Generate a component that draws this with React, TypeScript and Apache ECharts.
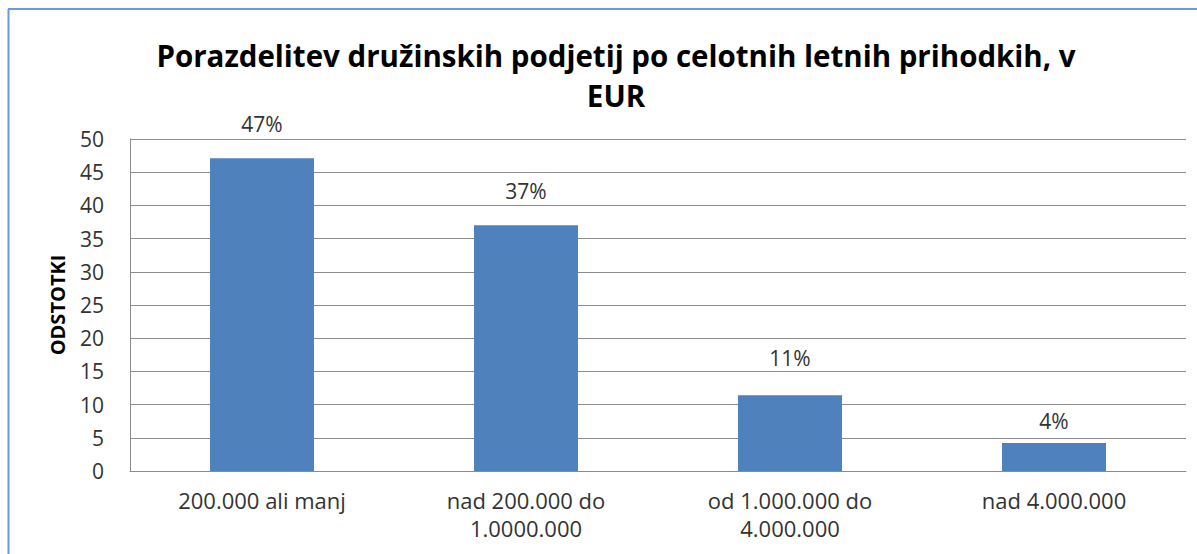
import React, { useEffect, useRef } from "react";
import * as echarts from "echarts";

const categories = [
  "200.000 ali manj",
  "nad 200.000 do\n1.0000.000",
  "od 1.000.000 do\n4.000.000",
  "nad 4.000.000",
];
const values = [47.1, 37.0, 11.4, 4.2];
const titleText = "Porazdelitev družinskih podjetij po celotnih letnih prihodkih, v\nEUR";
const yAxisName = "ODSTOTKI";

const FONT = "'Open Sans', 'Noto Sans', sans-serif";

export default function App() {
  const ref = useRef<HTMLDivElement>(null);
  useEffect(() => {
    if (!ref.current) return;
    const chart = echarts.init(ref.current, undefined, { renderer: "svg" });
    const labelDistances = [24, 24, 27, 12];
    chart.setOption({
      animation: false,
      backgroundColor: "#ffffff",
      title: {
        text: titleText,
        left: 611,
        textAlign: "center",
        top: 30,
        textStyle: {
          fontFamily: FONT,
          fontSize: 29.5,
          fontWeight: "bold",
          color: "#000000",
          lineHeight: 40,
        },
      },
      graphic: [
        {
          type: "line",
          shape: { x1: 8.5, y1: 9, x2: 8.5, y2: 554 },
          style: { stroke: "#6a9ad8", lineWidth: 2 },
        },
        {
          type: "line",
          shape: { x1: 8, y1: 9, x2: 1197, y2: 9 },
          style: { stroke: "#6a9ad8", lineWidth: 2 },
        },
      ],
      grid: { left: 130, right: 11, top: 139, bottom: 83 },
      xAxis: {
        type: "category",
        data: categories,
        axisLine: { show: true, lineStyle: { color: "#8c8c8c", width: 1 } },
        axisTick: { show: false },
        axisLabel: {
          fontFamily: FONT,
          fontSize: 22,
          color: "#333333",
          lineHeight: 28,
          margin: 15,
          interval: 0,
        },
      },
      yAxis: {
        type: "value",
        min: 0,
        max: 50,
        interval: 5,
        name: yAxisName,
        nameLocation: "middle",
        nameRotate: 90,
        nameGap: 63,
        nameTextStyle: {
          fontFamily: FONT,
          fontSize: 20,
          fontWeight: "bold",
          color: "#000000",
        },
        axisLine: { show: true, lineStyle: { color: "#8c8c8c", width: 1 } },
        axisTick: { show: false },
        splitLine: { show: true, lineStyle: { color: "#8c8c8c", width: 1 } },
        axisLabel: {
          fontFamily: FONT,
          fontSize: 21,
          color: "#333333",
          margin: 26,
        },
      },
      series: [
        {
          type: "bar",
          barWidth: 104,
          data: values.map((v, i) => ({
            value: v,
            label: { distance: labelDistances[i] },
          })),
          itemStyle: { color: "#4f81bd" },
          label: {
            show: true,
            position: "top",
            fontFamily: FONT,
            fontSize: 21,
            color: "#333333",
            formatter: (p: any) => Math.round(p.value) + "%",
          },
        },
      ],
    });
    return () => chart.dispose();
  }, []);
  return (
    <div
      ref={ref}
      style={{ position: "absolute", left: 0, top: 0, width: 1197, height: 554 }}
    />
  );
}
